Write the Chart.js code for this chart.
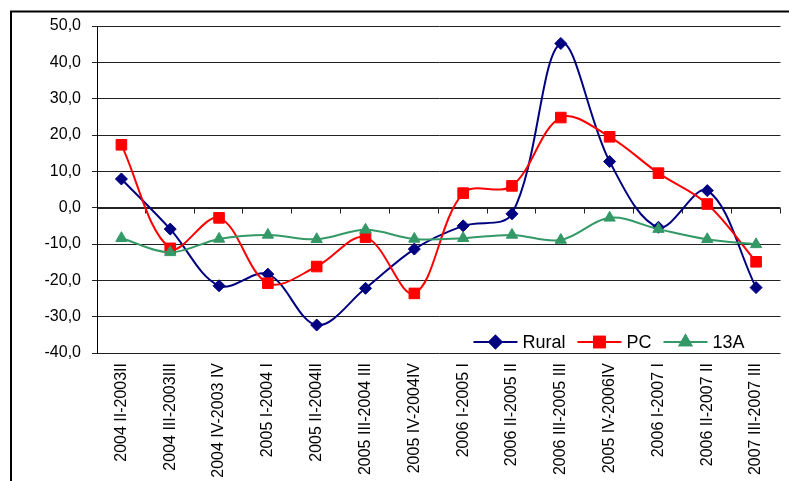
<!DOCTYPE html>
<html>
<head>
<meta charset="utf-8">
<script src="https://cdn.jsdelivr.net/npm/chart.js@4/dist/chart.umd.min.js"></script>
<style>
  html, body { margin: 0; padding: 0; background: #fff; }
  #wrap { width: 789px; height: 481px; }
</style>
</head>
<body>
<div id="wrap"><canvas id="c" width="789" height="481"></canvas></div>
<script>
// Quarter-on-quarter comparison periods
const categories = [
  "2004 II-2003II", "2004 III-2003III", "2004 IV-2003 IV", "2005 I-2004 I",
  "2005 II-2004II", "2005 III-2004 III", "2005 IV-2004IV", "2006 I-2005 I",
  "2006 II-2005 II", "2006 III-2005 III", "2005 IV-2006IV", "2006 I-2007 I",
  "2006 II-2007 II", "2007 III-2007 III"
];

// Percentage change per series
const rural = [7.9, -5.9, -21.5, -18.3, -32.3, -22.2, -11.4, -5.0, -1.7, 45.2, 12.7, -5.4, 4.7, -22.0];
const pc    = [17.3, -11.2, -2.8, -20.8, -16.2, -8.1, -23.6, 4.0, 6.0, 24.8, 19.5, 9.5, 1.0, -14.9];
const a13   = [-8.4, -12.3, -8.6, -7.5, -8.7, -6.1, -8.6, -8.4, -7.5, -8.9, -2.8, -5.9, -8.7, -10.1];

// Value axis range
const yMin = -40;
const yMax = 50;
const yStep = 10;

const FONT = "'Liberation Sans', Arial, sans-serif";

// Outer frame lines and white background
const framePlugin = {
  id: 'frame',
  beforeDraw(chart) {
    const ctx = chart.ctx;
    ctx.save();
    ctx.fillStyle = '#fff';
    ctx.fillRect(0, 0, chart.width, chart.height);
    ctx.strokeStyle = '#000';
    ctx.lineWidth = 2;
    ctx.beginPath();
    ctx.moveTo(10, 11.5);
    ctx.lineTo(chart.width, 11.5);
    ctx.moveTo(11, 11.5);
    ctx.lineTo(11, chart.height);
    ctx.stroke();
    ctx.restore();
  }
};

// Category tick marks sitting on the zero line
const zeroTicksPlugin = {
  id: 'zeroTicks',
  beforeDatasetsDraw(chart) {
    const x = chart.scales.x, y = chart.scales.y;
    const ctx = chart.ctx;
    const y0 = Math.round(y.getPixelForValue(0)) + 0.5;
    const half = (x.getPixelForValue(1) - x.getPixelForValue(0)) / 2;
    ctx.save();
    ctx.strokeStyle = '#222';
    ctx.lineWidth = 1;
    ctx.beginPath();
    ctx.moveTo(chart.chartArea.left, y0);
    ctx.lineTo(chart.chartArea.right, y0);
    for (let i = 0; i < categories.length; i++) {
      const px = Math.round(x.getPixelForValue(i) + half) - 0.5;
      ctx.moveTo(px, y0);
      ctx.lineTo(px, y0 + 5);
    }
    ctx.stroke();
    ctx.restore();
  }
};

// Legend with a line sample and marker, placed inside the plot near the bottom
const lineLegendPlugin = {
  id: 'lineLegend',
  afterDatasetsDraw(chart) {
    const ctx = chart.ctx;
    const area = chart.chartArea;
    const sample = 44, gapText = 5, gapItem = 12;
    ctx.save();
    ctx.font = "18px " + FONT;
    const items = chart.data.datasets.map(ds => ({ ds, w: ctx.measureText(ds.label).width }));
    const total = items.reduce((s, it) => s + sample + gapText + it.w, 0) + gapItem * (items.length - 1);
    let cx = area.right - 36 - total;
    const cy = area.bottom - 11;
    for (const it of items) {
      const ds = it.ds;
      ctx.strokeStyle = ds.borderColor;
      ctx.lineWidth = ds.borderWidth;
      ctx.beginPath();
      ctx.moveTo(cx, cy);
      ctx.lineTo(cx + sample, cy);
      ctx.stroke();
      Chart.helpers.drawPoint(ctx, {
        pointStyle: ds.pointStyle, radius: ds.pointRadius, rotation: 0, borderWidth: 1
      }, cx + sample / 2, cy);
      ctx.fillStyle = ds.backgroundColor;
      ctx.strokeStyle = ds.borderColor;
      ctx.fill();
      ctx.stroke();
      ctx.fillStyle = '#000';
      ctx.textBaseline = 'middle';
      ctx.textAlign = 'left';
      ctx.fillText(ds.label, cx + sample + gapText, cy + 1);
      cx += sample + gapText + it.w + gapItem;
    }
    ctx.restore();
  }
};

new Chart(document.getElementById('c'), {
  type: 'line',
  data: {
    labels: categories,
    datasets: [
      {
        label: 'Rural', data: rural, order: 2,
        borderColor: '#000080', backgroundColor: '#000080',
        borderWidth: 2, pointStyle: 'rectRot', pointRadius: 6, pointBorderWidth: 1,
        tension: 0.35
      },
      {
        label: 'PC', data: pc, order: 1,
        borderColor: '#FF0000', backgroundColor: '#FF0000',
        borderWidth: 2, pointStyle: 'rect', pointRadius: 7.5, pointBorderWidth: 1,
        tension: 0.35
      },
      {
        label: '13A', data: a13, order: 0,
        borderColor: '#339966', backgroundColor: '#339966',
        borderWidth: 2, pointStyle: 'triangle', pointRadius: 6.5, pointBorderWidth: 1,
        tension: 0.35
      }
    ]
  },
  options: {
    responsive: false,
    animation: false,
    devicePixelRatio: 1,
    layout: { padding: { left: 0, top: 26, right: 8, bottom: 0 } },
    plugins: {
      legend: { display: false },
      tooltip: { enabled: false },
      title: { display: false }
    },
    scales: {
      x: {
        type: 'category',
        offset: true,
        grid: { display: false, drawTicks: false },
        border: { display: false },
        ticks: {
          autoSkip: false,
          maxRotation: 90,
          minRotation: 90,
          padding: 10,
          color: '#000',
          font: { family: FONT, size: 16 }
        },
        afterFit(scale) { scale.height = 128; }
      },
      y: {
        min: yMin,
        max: yMax,
        ticks: {
          stepSize: yStep,
          padding: 11,
          color: '#000',
          font: { family: FONT, size: 16 },
          callback: v => v.toFixed(1).replace('.', ',')
        },
        grid: { color: '#222', lineWidth: 1, tickLength: 5, drawTicks: true },
        border: { display: true, color: '#000', width: 1 },
        afterFit(scale) { scale.width = 97; }
      }
    }
  },
  plugins: [framePlugin, zeroTicksPlugin, lineLegendPlugin]
});
</script>
</body>
</html>
